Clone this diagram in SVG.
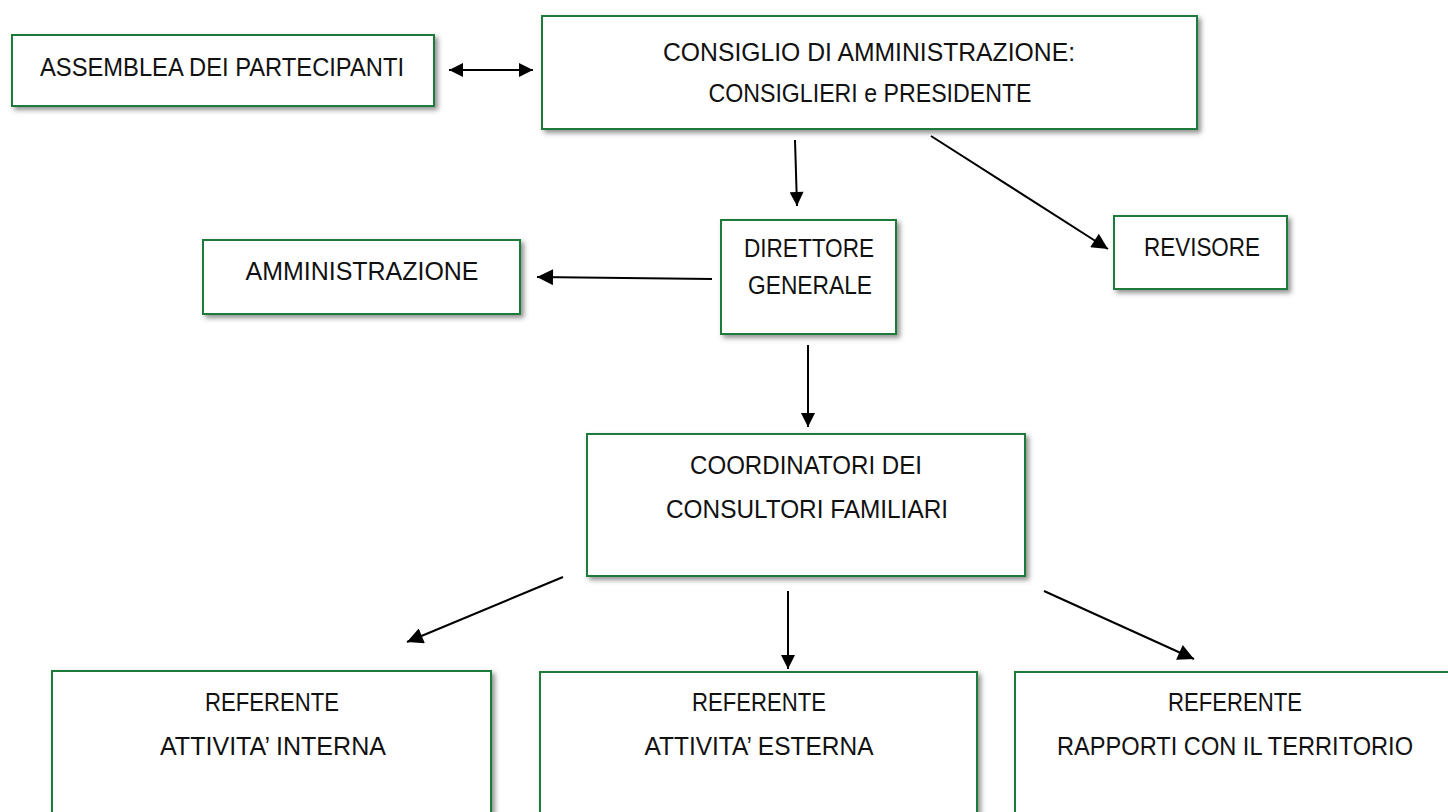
<svg xmlns="http://www.w3.org/2000/svg" width="1448" height="812" viewBox="0 0 1448 812">
<style>
.box{fill:#fff;stroke:#1f7a3a;stroke-width:2;filter:url(#sh)}
.t{font-family:"Liberation Sans",Arial,sans-serif;font-size:25px;fill:#111;text-anchor:middle}
.c{stroke:#000;stroke-width:2;fill:none;marker-end:url(#ah)}
</style>
<defs>
<filter id="sh" x="-10%" y="-10%" width="130%" height="140%">
<feDropShadow dx="3" dy="3" stdDeviation="2.5" flood-color="#555" flood-opacity="0.65"/>
</filter>
<marker id="ah" viewBox="0 0 10 10" refX="10" refY="5" markerWidth="9" markerHeight="8" orient="auto" markerUnits="strokeWidth">
<path d="M0,0 L10,5 L0,10 z" fill="#000"/>
</marker>
<marker id="as" viewBox="0 0 10 10" refX="0" refY="5" markerWidth="8" markerHeight="7" orient="auto" markerUnits="strokeWidth">
<path d="M10,0 L0,5 L10,10 z" fill="#000"/>
</marker>
<marker id="ae" viewBox="0 0 10 10" refX="10" refY="5" markerWidth="8" markerHeight="7" orient="auto" markerUnits="strokeWidth">
<path d="M0,0 L10,5 L0,10 z" fill="#000"/>
</marker>
</defs>
<g id="assemblea"><rect class="box" x="12" y="35" width="422" height="71"/><text class="t" x="222" y="76" textLength="364" lengthAdjust="spacingAndGlyphs">ASSEMBLEA DEI PARTECIPANTI</text></g>
<g id="consiglio"><rect class="box" x="542" y="16" width="655" height="113"/><text class="t" x="869" y="61" textLength="412" lengthAdjust="spacingAndGlyphs">CONSIGLIO DI AMMINISTRAZIONE:</text><text class="t" x="870" y="102" textLength="323" lengthAdjust="spacingAndGlyphs">CONSIGLIERI e PRESIDENTE</text></g>
<g id="direttore"><rect class="box" x="721" y="220" width="175" height="114"/><text class="t" x="809" y="257" textLength="130" lengthAdjust="spacingAndGlyphs">DIRETTORE</text><text class="t" x="810" y="294" textLength="124" lengthAdjust="spacingAndGlyphs">GENERALE</text></g>
<g id="revisore"><rect class="box" x="1114" y="216" width="173" height="73"/><text class="t" x="1202" y="256" textLength="116" lengthAdjust="spacingAndGlyphs">REVISORE</text></g>
<g id="amministrazione"><rect class="box" x="203" y="240" width="317" height="74"/><text class="t" x="362" y="280" textLength="233" lengthAdjust="spacingAndGlyphs">AMMINISTRAZIONE</text></g>
<g id="coordinatori"><rect class="box" x="587" y="434" width="438" height="142"/><text class="t" x="806" y="474" textLength="232" lengthAdjust="spacingAndGlyphs">COORDINATORI DEI</text><text class="t" x="807" y="518" textLength="282" lengthAdjust="spacingAndGlyphs">CONSULTORI FAMILIARI</text></g>
<g id="ref-interna"><rect class="box" x="52" y="671" width="439" height="160"/><text class="t" x="272" y="711" textLength="134" lengthAdjust="spacingAndGlyphs">REFERENTE</text><text class="t" x="273" y="755" textLength="226" lengthAdjust="spacingAndGlyphs">ATTIVITA’ INTERNA</text></g>
<g id="ref-esterna"><rect class="box" x="540" y="672" width="437" height="160"/><text class="t" x="759" y="711" textLength="134" lengthAdjust="spacingAndGlyphs">REFERENTE</text><text class="t" x="759" y="755" textLength="229" lengthAdjust="spacingAndGlyphs">ATTIVITA’ ESTERNA</text></g>
<g id="ref-territorio"><rect class="box" x="1015" y="672" width="440" height="160"/><text class="t" x="1235" y="711" textLength="134" lengthAdjust="spacingAndGlyphs">REFERENTE</text><text class="t" x="1235" y="755" textLength="356" lengthAdjust="spacingAndGlyphs">RAPPORTI CON IL TERRITORIO</text></g>
<g id="connectors">
<line x1="449" y1="70" x2="533" y2="70" stroke="#000" stroke-width="2" marker-start="url(#as)" marker-end="url(#ae)"/>
<line class="c" x1="795" y1="140" x2="797" y2="206" style="marker-end:url(#ae)"/>
<line class="c" x1="931" y1="136" x2="1108" y2="249"/>
<line class="c" x1="712" y1="279" x2="537" y2="277"/>
<line class="c" x1="808" y1="345" x2="808" y2="427" style="marker-end:url(#ae)"/>
<line class="c" x1="563" y1="577" x2="407" y2="642"/>
<line class="c" x1="788" y1="591" x2="788" y2="669" style="marker-end:url(#ae)"/>
<line class="c" x1="1044" y1="591" x2="1194" y2="659"/>
</g>
</svg>
